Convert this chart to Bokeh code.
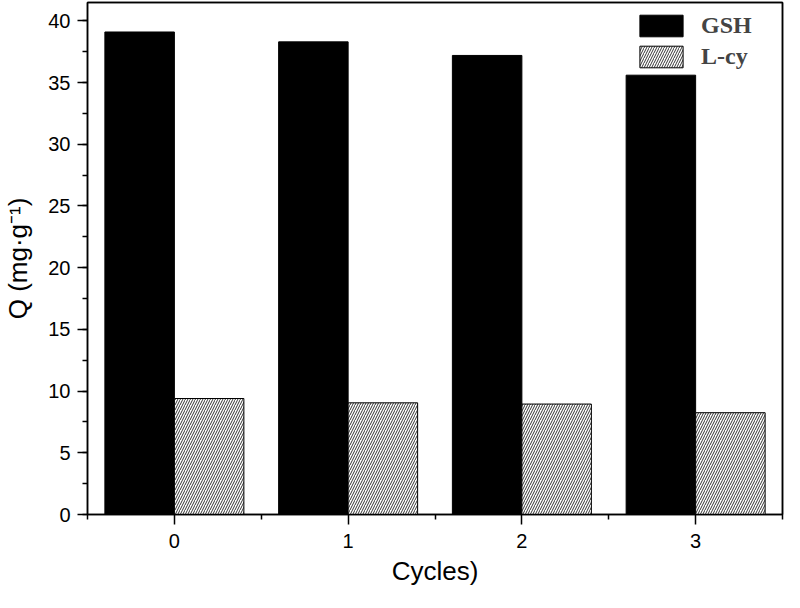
from bokeh.plotting import figure
from bokeh.models import (Range1d, FixedTicker, SingleIntervalTicker, Legend,
                          LegendItem, ColumnDataSource, LinearAxis)
from bokeh.transform import dodge
from bokeh.embed import file_html
from bokeh.resources import INLINE

cycles = [0, 1, 2, 3]
gsh = [39.1, 38.3, 37.2, 35.6]
lcy = [9.4, 9.05, 8.95, 8.25]
series_names = ["GSH", "L-cy"]
minor_x = [-0.5, 0.5, 1.5, 2.5, 3.5]

src = ColumnDataSource(dict(x=cycles, gsh=gsh, lcy=lcy))

p = figure(width=784, height=592, output_backend="svg", toolbar_location=None,
           x_range=Range1d(-0.5, 3.5), y_range=Range1d(0, 41.49),
           min_border_left=82, min_border_right=2, min_border_top=2,
           min_border_bottom=78)

r1 = p.vbar(x=dodge('x', -0.2, range=p.x_range), top='gsh', width=0.4, source=src,
            fill_color="black", line_color="black", line_width=1)
r2 = p.vbar(x=dodge('x', 0.2, range=p.x_range), top='lcy', width=0.4, source=src,
            fill_color="white", line_color="black", line_width=1,
            hatch_pattern="right_diagonal_line", hatch_color="black",
            hatch_scale=5, hatch_weight=0.8)

p.xgrid.visible = False
p.ygrid.visible = False
p.outline_line_color = "black"
p.outline_line_width = 1.5
p.outline_line_alpha = 1

p.xaxis.ticker = FixedTicker(ticks=cycles, minor_ticks=minor_x)
p.yaxis.ticker = SingleIntervalTicker(interval=5, num_minor_ticks=2)

for ax in (p.xaxis[0], p.yaxis[0]):
    ax.axis_line_width = 1.5
    ax.major_tick_line_width = 1.5
    ax.minor_tick_line_width = 1.5
    ax.major_tick_in = 0
    ax.major_tick_out = 10
    ax.minor_tick_in = 0
    ax.minor_tick_out = 5
    ax.major_label_text_font = "Liberation Sans"
    ax.major_label_text_font_size = "20px"
    ax.major_label_text_color = "black"
    ax.axis_label_text_font = "Liberation Sans"
    ax.axis_label_text_font_size = "26px"
    ax.axis_label_text_font_style = "normal"
    ax.axis_label_text_color = "black"

p.xaxis.axis_label = "Cycles)"
p.yaxis.axis_label = "Q (mg·g⁻¹)"
p.xaxis.major_label_standoff = 9
p.yaxis.major_label_standoff = 7
p.xaxis.axis_label_standoff = 5
p.yaxis.axis_label_standoff = 12

# plain frame lines on top and right
for side in ("above", "right"):
    frame_ax = LinearAxis(ticker=FixedTicker(ticks=[]), axis_line_width=1.5,
                          major_tick_out=0, major_tick_in=0,
                          minor_tick_out=0, minor_tick_in=0,
                          major_label_text_font_size="0px",
                          major_label_standoff=0)
    p.add_layout(frame_ax, side)

legend = Legend(items=[LegendItem(label=series_names[0], renderers=[r1]),
                       LegendItem(label=series_names[1], renderers=[r2])],
                location=(547, 444), glyph_width=54, glyph_height=27,
                spacing=4, label_standoff=13, padding=0, margin=0,
                border_line_color=None, background_fill_alpha=0,
                label_text_font="Liberation Serif", label_text_font_style="bold",
                label_text_font_size="24px")
p.add_layout(legend)

open("out.html", "w").write(file_html(p, INLINE))
